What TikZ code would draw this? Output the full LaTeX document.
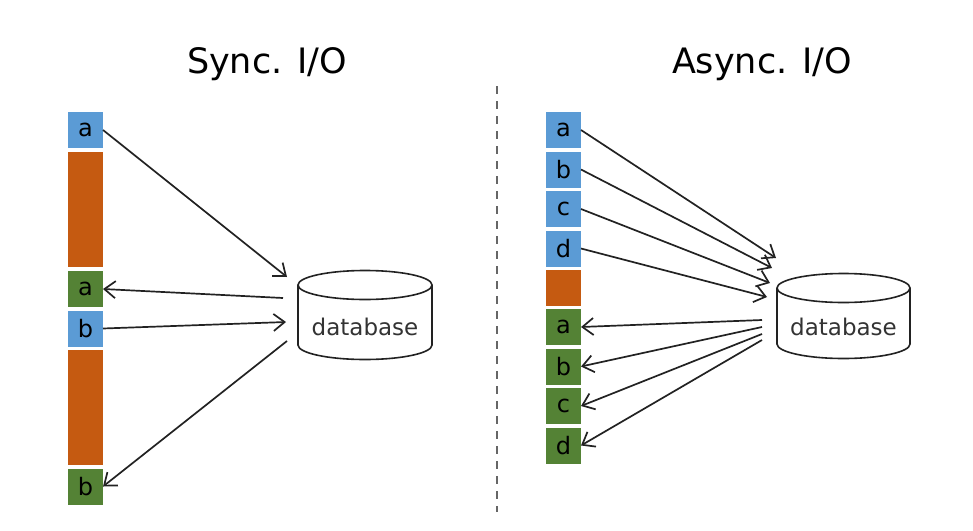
\documentclass[tikz,border=0pt]{standalone}
\usepackage{fontspec}
\setmainfont{DejaVu Sans}
\usetikzlibrary{arrows.meta}
\definecolor{cblue}{HTML}{5B9BD5}
\definecolor{corange}{HTML}{C55A11}
\definecolor{cgreen}{HTML}{548235}
\definecolor{cline}{HTML}{222222}
\tikzset{
  blk/.style={minimum width=35pt, minimum height=36pt, inner sep=0pt, outer sep=0pt,
    font=\fontsize{24}{28}\selectfont, text=black},
  req/.style={blk, fill=cblue},
  res/.style={blk, fill=cgreen},
  wait/.style={blk, fill=corange},
  conn/.style={draw=cline, line width=1.7pt, -{Straight Barb[length=11pt,width=17pt,line width=1.7pt]}},
  dbline/.style={draw=cline, line width=1.6pt},
  dbtext/.style={font=\fontsize{23}{27}\selectfont, text=black!80},
  title/.style={font=\fontsize{35}{40}\selectfont, text=black}
}
\begin{document}
\begin{tikzpicture}[x=1pt,y=-1pt]
\useasboundingbox[fill=white] (0,0) rectangle (973,530);
% titles
\node[title] (tS) at (267,64) {Sync. I/O};
\node[title] (tA) at (762,64) {Async. I/O};
% divider
\coordinate (d1) at (497,86);
\coordinate (d2) at (497,512);
\draw[gray!80!black, line width=2.2pt, dash pattern=on 8pt off 7pt] (d1) -- (d2);
% ---- Sync column
\node[req]  (La)  at (85.5,130) {a};
\node[wait, minimum height=115pt] (Lo1) at (85.5,209.5) {};
\node[res]  (Lra) at (85.5,289) {a};
\node[req]  (Lb)  at (85.5,328.5) {b};
\node[wait, minimum height=115pt] (Lo2) at (85.5,407) {};
\node[res]  (Lrb) at (85.5,486.5) {b};
% database left
\draw[dbline] (365,285) ellipse [x radius=67, y radius=14.5];
\draw[dbline] (298,285) -- (298,345) arc[start angle=180, end angle=0, x radius=67, y radius=14.5] -- (432,285);
\node[dbtext] (dbL) at (365,327) {database};
% endpoints left
\coordinate (L1) at (287,277);
\coordinate (L2) at (283,298);
\coordinate (L3) at (286,322);
\coordinate (L4) at (287,341);
\draw[conn] (La.east) -- (L1);
\draw[conn] (L2) -- (Lra.east);
\draw[conn] (Lb.east) -- (L3);
\draw[conn] (L4) -- (Lrb.east);
% ---- Async column
\node[req] (Ra) at (563.5,130) {a};
\node[req] (Rb) at (563.5,169.5) {b};
\node[req] (Rc) at (563.5,209) {c};
\node[req] (Rd) at (563.5,248.5) {d};
\node[wait] (Ro) at (563.5,287.5) {};
\node[res] (Ga) at (563.5,327) {a};
\node[res] (Gb) at (563.5,366.5) {b};
\node[res] (Gc) at (563.5,406) {c};
\node[res] (Gd) at (563.5,445.5) {d};
% database right
\draw[dbline] (843.5,288) ellipse [x radius=66.5, y radius=14.5];
\draw[dbline] (777,288) -- (777,344) arc[start angle=180, end angle=0, x radius=66.5, y radius=14.5] -- (910,288);
\node[dbtext] (dbR) at (843.5,327) {database};
% endpoints right
\coordinate (Q1) at (776,258);
\coordinate (Q2) at (772,268);
\coordinate (Q3) at (770,283);
\coordinate (Q4) at (767,297);
\coordinate (P1) at (762,320);
\coordinate (P2) at (762,327);
\coordinate (P3) at (762,334);
\coordinate (P4) at (762,340);
\draw[conn] (Ra.east) -- (Q1);
\draw[conn] (Rb.east) -- (Q2);
\draw[conn] (Rc.east) -- (Q3);
\draw[conn] (Rd.east) -- (Q4);
\draw[conn] (P1) -- (Ga.east);
\draw[conn] (P2) -- (Gb.east);
\draw[conn] (P3) -- (Gc.east);
\draw[conn] (P4) -- (Gd.east);
\end{tikzpicture}
\end{document}
